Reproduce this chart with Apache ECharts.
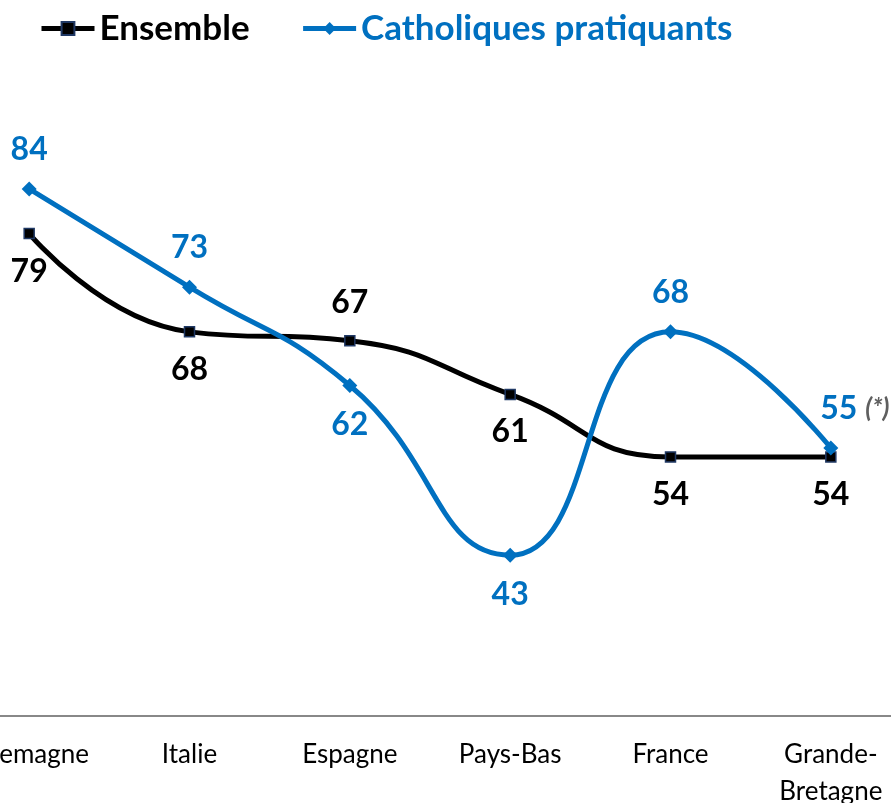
<!DOCTYPE html>
<html><head><meta charset="utf-8">
<script src="https://cdn.jsdelivr.net/npm/echarts@6/dist/echarts.min.js"></script>
<style>html,body{margin:0;padding:0;background:#fff}#c{width:891px;height:803px}</style>
</head><body><div id="c"></div>
<script>
const categories = ['Allemagne', 'Italie', 'Espagne', 'Pays-Bas', 'France', 'Grande-\nBretagne'];
const ensemble = [79, 68, 67, 61, 54, 54];
const catholiques = [84, 73, 62, 43, 68, 55];
const ensemblePos = ['bottom', 'bottom', 'top', 'bottom', 'bottom', 'bottom'];
const catholiquesPos = ['top', 'top', 'bottom', 'bottom', 'top', 'top'];
const noteIndex = 5;
const noteText = '(*)';

const FONT = 'Lato, "Open Sans", sans-serif';
const BLUE = '#0070C0';

const chart = echarts.init(document.getElementById('c'));
chart.setOption({
  animation: false,
  textStyle: { fontFamily: FONT },
  legend: {
    top: 6, left: 34, itemWidth: 53, itemHeight: 16, itemGap: 51,
    textStyle: { fontSize: 35, fontWeight: 'bold', fontFamily: FONT },
    data: [
      { name: 'Ensemble', textStyle: { color: '#000' }, lineStyle: { width: 5, color: '#000' } },
      { name: 'Catholiques pratiquants', textStyle: { color: BLUE }, lineStyle: { width: 5, color: BLUE } }
    ]
  },
  grid: { left: -51, right: -20, top: 46, bottom: 87, containLabel: false, outerBoundsMode: 'none' },
  xAxis: {
    type: 'category', data: categories, boundaryGap: true,
    axisLine: { lineStyle: { color: '#888', width: 2 } },
    axisTick: { show: false },
    axisLabel: { color: '#000', fontSize: 26, lineHeight: 37, margin: 20, fontFamily: FONT, interval: 0, hideOverlap: false }
  },
  yAxis: { type: 'value', min: 25, max: 100, show: false, splitLine: { show: false } },
  series: [
    {
      name: 'Ensemble', type: 'line', smooth: 0.5,
      data: ensemble.map((v, i) => ({ value: v, label: { position: ensemblePos[i] } })),
      symbol: 'rect', symbolSize: 10,
      lineStyle: { color: '#000', width: 5 },
      itemStyle: { color: '#000', borderColor: '#1F3864', borderWidth: 1.5 },
      label: { show: true, distance: 16, color: '#000', fontSize: 32, fontWeight: 'bold', fontFamily: FONT },
      z: 2
    },
    {
      name: 'Catholiques pratiquants', type: 'line', smooth: 0.5,
      data: catholiques.map((v, i) => {
        const d = { value: v, label: { position: catholiquesPos[i] } };
        if (i === noteIndex) {
          d.label.formatter = '{a|{c}} {b|' + noteText + '}';
          d.label.offset = [24, 0];
        }
        return d;
      }),
      symbol: 'diamond', symbolSize: 15,
      lineStyle: { color: BLUE, width: 5 },
      itemStyle: { color: BLUE },
      label: {
        show: true, distance: 16, color: BLUE, fontSize: 32, fontWeight: 'bold', fontFamily: FONT,
        rich: {
          a: { color: BLUE, fontSize: 32, fontWeight: 'bold', fontFamily: FONT },
          b: { color: '#5F5F5F', fontSize: 26, fontWeight: 'bold', fontStyle: 'italic', fontFamily: FONT }
        }
      },
      z: 3
    }
  ]
});
</script></body></html>
